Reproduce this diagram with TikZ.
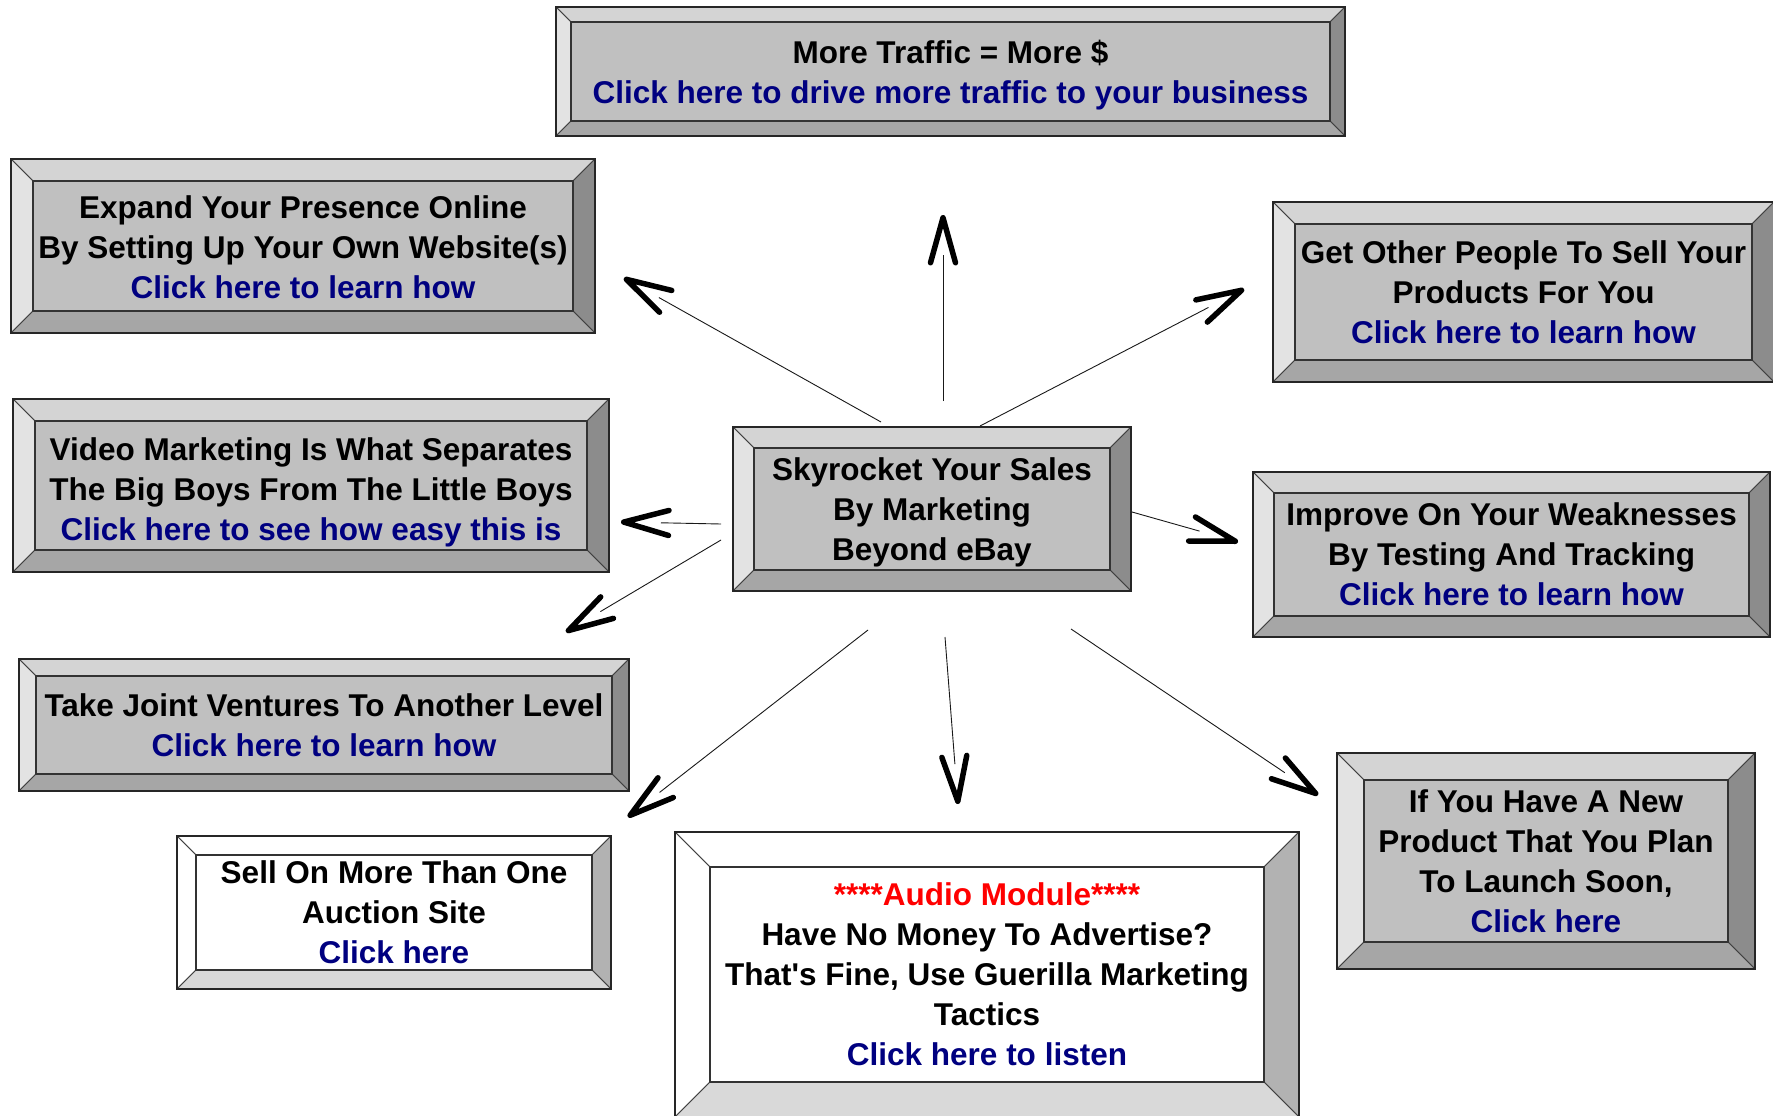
\documentclass[tikz,border=0pt]{standalone}
\usepackage{fontspec}
\setmainfont{Liberation Sans}
\usetikzlibrary{calc, arrows.meta}

\definecolor{linkblue}{HTML}{000080}
\definecolor{audiored}{HTML}{FF0000}
\newcommand{\lastline}[1]{\raisebox{0pt}[\height][0pt]{#1}}
\newcommand{\firstline}[2][0pt]{\raisebox{0pt}[\dimexpr\height+#1\relax][\depth]{#2}}
\newcommand{\clickline}[1]{\lastline{\textcolor{linkblue}{#1}}}

\tikzset{
  bevel/.store in=\bevelw, bevel=20pt,
  tone top/.store in=\tonetop,
  tone left/.store in=\toneleft,
  tone right/.store in=\toneright,
  tone bottom/.store in=\tonebottom,
  plate/.style={draw=black!85, line width=1.5pt, inner sep=0pt, align=center, text=black,
    font=\bfseries\fontsize{31.5}{40}\selectfont,
    path picture={
      \coordinate (nw) at (path picture bounding box.north west);
      \coordinate (ne) at (path picture bounding box.north east);
      \coordinate (se) at (path picture bounding box.south east);
      \coordinate (sw) at (path picture bounding box.south west);
      \coordinate (inw) at ($(nw)+(\bevelw,-\bevelw)$);
      \coordinate (ine) at ($(ne)+(-\bevelw,-\bevelw)$);
      \coordinate (ise) at ($(se)+(-\bevelw,\bevelw)$);
      \coordinate (isw) at ($(sw)+(\bevelw,\bevelw)$);
      \filldraw[fill=\tonetop, bevel edge] (nw) -- (ne) -- (ine) -- (inw) -- cycle;
      \filldraw[fill=\toneleft, bevel edge] (nw) -- (inw) -- (isw) -- (sw) -- cycle;
      \filldraw[fill=\toneright, bevel edge] (ne) -- (se) -- (ise) -- (ine) -- cycle;
      \filldraw[fill=\tonebottom, bevel edge] (sw) -- (isw) -- (ise) -- (se) -- cycle;
      \draw[black!80, line width=1.3pt] (inw) rectangle (ise);
    }},
  bevel edge/.style={draw=black!75, line width=0.8pt},
  grey plate/.style={plate, fill={rgb,255:red,192;green,192;blue,192},
    tone top={black!17}, tone left={black!11}, tone right={black!45}, tone bottom={black!35}},
  white plate/.style={plate, fill=white,
    tone top=white, tone left=white, tone right={black!30}, tone bottom={black!15}},
  shaft/.style={draw=black!90, line width=0.9pt, shorten >=40pt},
  barb/.style={draw=black, line width=0.9pt,
    -{Straight Barb[length=45pt, width=25pt, line width=5.5pt, round]}}
}

\begin{document}
\begin{tikzpicture}[x=1pt, y=-1pt]
  \fill[white, use as bounding box] (0,0) rectangle (1773,1116);

  % Centre plate
  \node[grey plate, bevel=21pt, minimum width=398pt, minimum height=164pt] (hub) at (932,509)
    {Skyrocket Your Sales\\By Marketing\\\lastline{Beyond eBay}};

  % Plates around it
  \node[grey plate, bevel=15pt, minimum width=789pt, minimum height=129pt] (traffic) at (950.5,71.5)
    {More Traffic = More \$\\\clickline{Click here to drive more traffic to your business}};
  \node[grey plate, bevel=22pt, minimum width=584pt, minimum height=174pt] (website) at (303,246)
    {\firstline[2pt]{Expand Your Presence Online}\\By Setting Up Your Own Website(s)\\\clickline{Click here to learn how}};
  \node[grey plate, bevel=22pt, minimum width=501pt, minimum height=180pt] (affiliates) at (1523.5,292)
    {Get Other People To Sell Your\\Products For You\\\clickline{Click here to learn how}};
  \node[grey plate, bevel=22pt, minimum width=596pt, minimum height=173pt] (video) at (311,485.5)
    {\firstline[8pt]{Video Marketing Is What Separates}\\The Big Boys From The Little Boys\\\clickline{Click here to see how easy this is}};
  \node[grey plate, bevel=21pt, minimum width=517pt, minimum height=165pt] (testing) at (1511.5,554.5)
    {Improve On Your Weaknesses\\By Testing And Tracking\\\clickline{Click here to learn how}};
  \node[grey plate, bevel=17pt, minimum width=610pt, minimum height=132pt] (jv) at (324,725)
    {Take Joint Ventures To Another Level\\\clickline{Click here to learn how}};
  \node[white plate, bevel=19pt, minimum width=434pt, minimum height=153pt] (auctions) at (394,912.5)
    {Sell On More Than One\\Auction Site\\\clickline{Click here}};
  \node[white plate, bevel=35pt, minimum width=624pt, minimum height=285pt] (audio) at (987,974.5)
    {\textcolor{audiored}{****Audio Module****}\\Have No Money To Advertise?\\That\textquotesingle s Fine, Use Guerilla Marketing\\Tactics\\\clickline{Click here to listen}};
  \node[grey plate, bevel=27pt, minimum width=418pt, minimum height=216pt] (launch) at (1546,861)
    {If You Have A New\\Product That You Plan\\To Launch Soon,\\\clickline{Click here}};

  % Arrow ends
  \coordinate (s-traffic) at (943,401);    \coordinate (t-traffic) at (943,215);
  \coordinate (s-website) at (881,422);    \coordinate (t-website) at (624,278);
  \coordinate (s-affiliates) at (980,426); \coordinate (t-affiliates) at (1244,289);
  \coordinate (s-video) at (721,524);      \coordinate (t-video) at (621,522);
  \coordinate (s-jv) at (721,540);         \coordinate (t-jv) at (566,632);
  \coordinate (s-testing) at (1132,512);   \coordinate (t-testing) at (1238,542);
  \coordinate (s-auctions) at (868,630);   \coordinate (t-auctions) at (628,817);
  \coordinate (s-audio) at (945,637);      \coordinate (t-audio) at (958,804);
  \coordinate (s-launch) at (1071,629);    \coordinate (t-launch) at (1318,795);

  \foreach \n in {traffic, website, affiliates, video, jv, testing, auctions, audio, launch} {
    \draw[shaft] (s-\n) -- (t-\n);
    \draw[barb] ($(t-\n)!1pt!(s-\n)$) -- (t-\n);
  }

\end{tikzpicture}
\end{document}
